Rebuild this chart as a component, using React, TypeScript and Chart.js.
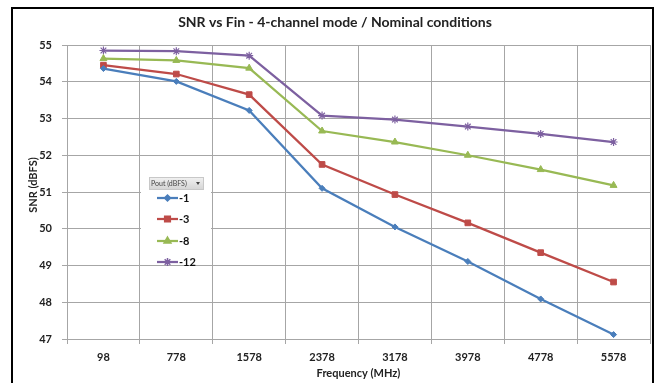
import React, { useEffect, useRef } from 'react';
import { Chart, registerables } from 'chart.js';
import { drawPoint } from 'chart.js/helpers';

Chart.register(...registerables);

const chartTitle = 'SNR vs Fin - 4-channel mode / Nominal conditions';
const xTitle = 'Frequency (MHz)';
const yTitle = 'SNR (dBFS)';
const legendTitle = 'Pout (dBFS)';
const categories = ['98', '778', '1578', '2378', '3178', '3978', '4778', '5578'];
const seriesLabels = ['-1', '-3', '-8', '-12'];
const snrM1 = [54.36, 54.01, 53.22, 51.1, 50.05, 49.11, 48.09, 47.12];
const snrM3 = [54.45, 54.21, 53.65, 51.75, 50.93, 50.16, 49.35, 48.55];
const snrM8 = [54.63, 54.58, 54.37, 52.66, 52.36, 52.0, 51.61, 51.18];
const snrM12 = [54.85, 54.83, 54.71, 53.08, 52.97, 52.78, 52.58, 52.36];
const yMin = 47;
const yMax = 55;

const FONT = 'Lato, "Open Sans", sans-serif';
const colors = ['#4a7ebb', '#be4b48', '#98b954', '#7d60a0'];
const pointStyles = ['rectRot', 'rect', 'triangle', 'star'];
const pointRadii = [3, 4, 4, 4];

const decorations = {
  id: 'decorations',
  beforeDraw(chart: any) {
    const { ctx } = chart;
    ctx.save();
    ctx.fillStyle = '#ffffff';
    ctx.fillRect(0, 0, chart.width, chart.height);
    ctx.restore();
  },
  afterDraw(chart: any) {
    const { ctx, chartArea } = chart;
    ctx.save();
    // outer border
    ctx.strokeStyle = '#000000';
    ctx.lineWidth = 2;
    ctx.strokeRect(12, 8, 641, 400);

    // title
    ctx.fillStyle = '#222222';
    ctx.font = `bold 14px ${FONT}`;
    ctx.textAlign = 'center';
    ctx.textBaseline = 'middle';
    ctx.fillText(chartTitle, 335, 22);

    // x title
    ctx.font = `bold 11px ${FONT}`;
    ctx.fillText(xTitle, (chartArea.left + chartArea.right) / 2, 373);

    // y title
    ctx.save();
    ctx.translate(33, 185);
    ctx.rotate(-Math.PI / 2);
    ctx.fillText(yTitle, 0, 0);
    ctx.restore();

    // legend
    ctx.fillStyle = '#ffffff';
    ctx.fillRect(141, 170, 70, 92);
    const grad = ctx.createLinearGradient(0, 177, 0, 189);
    grad.addColorStop(0, '#f2f2f2');
    grad.addColorStop(1, '#d6d6d6');
    ctx.fillStyle = grad;
    ctx.fillRect(149, 177, 54, 12);
    ctx.strokeStyle = '#c8c8c8';
    ctx.lineWidth = 1;
    ctx.strokeRect(149.5, 177.5, 54, 12);
    ctx.fillStyle = '#444444';
    ctx.font = `7px ${FONT}`;
    ctx.textAlign = 'left';
    ctx.fillText(legendTitle, 151, 183.5);
    ctx.beginPath();
    ctx.moveTo(196, 182);
    ctx.lineTo(200, 182);
    ctx.lineTo(198, 185);
    ctx.closePath();
    ctx.fill();

    const ys = [198, 219, 241, 262];
    chart.data.datasets.forEach((ds: any, i: number) => {
      const y = ys[i];
      ctx.strokeStyle = ds.borderColor;
      ctx.lineWidth = 2.25;
      ctx.beginPath();
      ctx.moveTo(157, y);
      ctx.lineTo(178, y);
      ctx.stroke();
      ctx.fillStyle = ds.backgroundColor;
      ctx.strokeStyle = ds.borderColor;
      ctx.lineWidth = 1.5;
      drawPoint(ctx, { pointStyle: ds.pointStyle, radius: ds.pointRadius, rotation: 0, borderWidth: 1.5 } as any, 167.5, y);
      ctx.fillStyle = '#111111';
      ctx.font = `bold 11px ${FONT}`;
      ctx.textAlign = 'left';
      ctx.fillText(ds.label, 179, y + 0.5);
    });
    ctx.restore();
  },
};

export default function App() {
  const canvasRef = useRef<HTMLCanvasElement | null>(null);

  useEffect(() => {
    const canvas = canvasRef.current;
    if (!canvas) return;
    const seriesData = [snrM1, snrM3, snrM8, snrM12];
    const chart = new Chart(canvas, {
      type: 'line',
      data: {
        labels: categories,
        datasets: seriesData.map((d, i) => ({
          label: seriesLabels[i],
          data: d,
          borderColor: colors[i],
          backgroundColor: colors[i],
          borderWidth: 2.25,
          pointStyle: pointStyles[i] as any,
          pointRadius: pointRadii[i],
          pointBorderWidth: i === 3 ? 1.2 : 1,
          tension: 0,
        })),
      },
      options: {
        responsive: false,
        animation: false,
        devicePixelRatio: 1,
        layout: { padding: { left: 0, right: 9, top: 45, bottom: 0 } },
        plugins: {
          legend: { display: false },
          title: { display: false },
          tooltip: { enabled: false },
        },
        scales: {
          x: {
            offset: true,
            grid: {
              offset: true,
              color: '#a6a6a6',
              lineWidth: 1,
              drawTicks: true,
              tickLength: 5,
            },
            border: { color: '#a6a6a6' },
            ticks: {
              color: '#222222',
              font: { family: FONT, size: 11, weight: 'bold' },
              padding: 7,
              maxRotation: 0,
              autoSkip: false,
            },
            afterFit(scale: any) {
              scale.height = 44;
            },
          },
          y: {
            min: yMin,
            max: yMax,
            grid: { color: '#a6a6a6', lineWidth: 1, tickLength: 5 },
            border: { color: '#a6a6a6' },
            ticks: {
              stepSize: 1,
              color: '#222222',
              font: { family: FONT, size: 11, weight: 'bold' },
              padding: 10,
            },
            afterFit(scale: any) {
              scale.width = 67;
            },
          },
        },
      },
      plugins: [decorations],
    });
    return () => chart.destroy();
  }, []);

  return (
    <div style={{ position: 'fixed', left: 0, top: 0, width: 659, height: 383, background: '#fff' }}>
      <canvas ref={canvasRef} width={659} height={383} style={{ display: 'block', width: 659, height: 383 }} />
    </div>
  );
}
